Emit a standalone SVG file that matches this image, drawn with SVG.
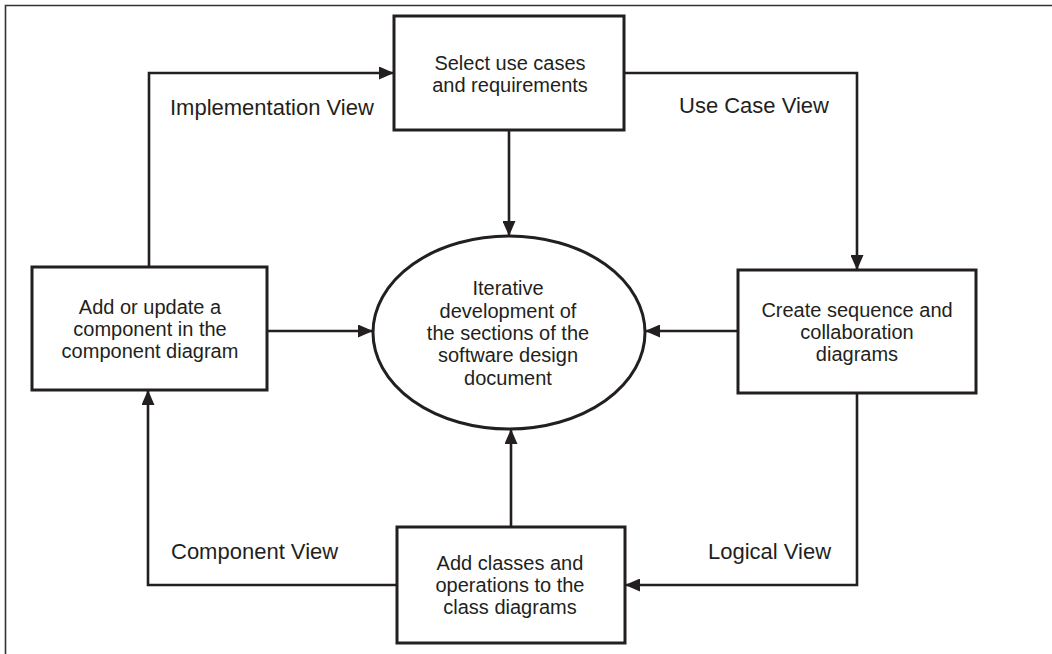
<svg xmlns="http://www.w3.org/2000/svg" width="1052" height="654" viewBox="0 0 1052 654">
  <style>
    .box { fill: #ffffff; stroke: #231f20; stroke-width: 3; }
    .conn { fill: none; stroke: #231f20; stroke-width: 2.6; }
    .lbl { font-family: "Liberation Sans", Arial, Helvetica, sans-serif; font-size: 22px; fill: #231f20; }
    .nt { font-family: "Liberation Sans", Arial, Helvetica, sans-serif; font-size: 20px; fill: #231f20; text-anchor: middle; }
  </style>
  <defs>
    <marker id="arrow" markerUnits="userSpaceOnUse" markerWidth="15" markerHeight="13" refX="15" refY="6.5" orient="auto">
      <path d="M0,0 L15,6.5 L0,13 z" fill="#231f20"/>
    </marker>
  </defs>
  <rect width="1052" height="654" fill="#ffffff"/>
  <g id="frame">
    <path d="M5.5,660 V5.5 H1052" fill="none" stroke="#333333" stroke-width="1.6"/>
  </g>
  <g id="connectors">
    <path class="conn" d="M149,267 V73 H394" marker-end="url(#arrow)"/>
    <path class="conn" d="M624,73 H857 V270" marker-end="url(#arrow)"/>
    <path class="conn" d="M509,130 V236" marker-end="url(#arrow)"/>
    <path class="conn" d="M267,331 H373" marker-end="url(#arrow)"/>
    <path class="conn" d="M738,331 H645" marker-end="url(#arrow)"/>
    <path class="conn" d="M857,393 V585 H625" marker-end="url(#arrow)"/>
    <path class="conn" d="M511,527 V429" marker-end="url(#arrow)"/>
    <path class="conn" d="M397,585 H148 V390" marker-end="url(#arrow)"/>
    <text class="lbl" x="170" y="115">Implementation View</text>
    <text class="lbl" x="679" y="113">Use Case View</text>
    <text class="lbl" x="171" y="559">Component View</text>
    <text class="lbl" x="708" y="559">Logical View</text>
  </g>
  <g id="select">
    <rect class="box" x="394" y="16" width="230" height="114"/>
    <text class="nt" x="510" y="69.8">Select use cases</text>
    <text class="nt" x="510" y="92.2">and requirements</text>
  </g>
  <g id="component">
    <rect class="box" x="32" y="267" width="235" height="123"/>
    <text class="nt" x="150" y="313.6">Add or update a</text>
    <text class="nt" x="150" y="336">component in the</text>
    <text class="nt" x="150" y="358.4">component diagram</text>
  </g>
  <g id="iterative">
    <ellipse class="box" cx="509" cy="332.5" rx="136" ry="96.5"/>
    <text class="nt" x="508" y="295.2">Iterative</text>
    <text class="nt" x="508" y="317.6">development of</text>
    <text class="nt" x="508" y="340">the sections of the</text>
    <text class="nt" x="508" y="362.4">software design</text>
    <text class="nt" x="508" y="384.8">document</text>
  </g>
  <g id="sequence">
    <rect class="box" x="738" y="270" width="238" height="123"/>
    <text class="nt" x="857" y="316.6">Create sequence and</text>
    <text class="nt" x="857" y="339">collaboration</text>
    <text class="nt" x="857" y="361.4">diagrams</text>
  </g>
  <g id="classes">
    <rect class="box" x="397" y="527" width="228" height="116"/>
    <text class="nt" x="510" y="569.6">Add classes and</text>
    <text class="nt" x="510" y="592">operations to the</text>
    <text class="nt" x="510" y="614.4">class diagrams</text>
  </g>
</svg>
